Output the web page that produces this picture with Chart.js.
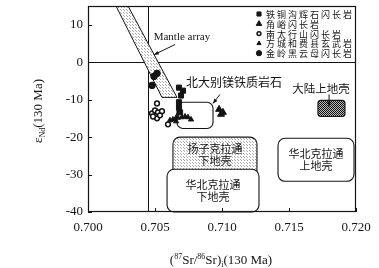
<!DOCTYPE html>
<html>
<head>
<meta charset="utf-8">
<script src="https://cdn.jsdelivr.net/npm/chart.js@4.4.1/dist/chart.umd.min.js"></script>
<style>
  html, body { margin: 0; padding: 0; background: #fff; }
  #wrap { width: 379px; height: 268px; }
</style>
</head>
<body>
<div id="wrap"><canvas id="myChart" width="379" height="268"></canvas></div>
<script>
// tick labels
const xTicks = [0.700, 0.705, 0.710, 0.715, 0.720];
const yTicks = [-40, -30, -20, -10, 0, 10];

// series: (87Sr/86Sr)i and eNd(t)
const tietonggouX = [0.70679, 0.70709, 0.70694, 0.70679, 0.70679, 0.70687];
const tietonggouY = [-6.8, -7.6, -8.9, -10.7, -12.1, -13.4];
const jiaoyuX = [0.70664, 0.70978, 0.71007, 0.70993];
const jiaoyuY = [-14.7, -12.6, -13.4, -13.9];
const nantaihangX = [0.70515, 0.70478, 0.70500, 0.70522, 0.70552, 0.70515, 0.70485, 0.70537, 0.70597];
const nantaihangY = [-11.0, -13.7, -12.9, -13.4, -13.1, -15.0, -14.5, -14.2, -16.6];
const fangchengX = [0.70612, 0.70634, 0.70657, 0.70701, 0.70724, 0.70746, 0.70769];
const fangchengY = [-15.5, -15.3, -15.8, -14.7, -14.5, -14.7, -15.3];
const jinlingX = [0.70493, 0.70515, 0.70478];
const jinlingY = [-3.8, -3.0, -6.2];

const seriesNames = ['铁铜沟辉石闪长岩', '角峪闪长岩', '南太行山闪长岩', '方城和费县玄武岩', '金岭黑云母闪长岩'];

// mantle array band outline
const mantleX = [0.70209, 0.70299, 0.70664, 0.70552, 0.70209];
const mantleY = [15, 15, -9.4, -9.4, 15];

// reference fields
const regionText = ['扬子克拉通\n下地壳', '华北克拉通\n下地壳', '华北克拉通\n上地壳', '', ''];
const regionXMin = [0.70634, 0.70590, 0.71418, 0.70664, 0.71716];
const regionXMax = [0.71261, 0.71276, 0.71985, 0.70933, 0.71918];
const regionYMax = [-20.0, -28.6, -20.3, -10.7, -10.2];
const regionYMin = [-29.4, -40, -31.8, -17.7, -14.5];

// bulk earth reference lines
const bulkSr = 0.7045;
const bulkNd = 0;

const ink = '#141414';
const serif = '"Liberation Serif", "DejaVu Serif", serif';
const cjk = '"Noto Sans CJK SC", sans-serif';

function toPts(xs, ys) { return xs.map((x, i) => ({ x: x, y: ys[i] })); }

function dotPattern(step, color) {
  const c = document.createElement('canvas');
  c.width = step; c.height = step;
  const g = c.getContext('2d');
  g.fillStyle = '#fff'; g.fillRect(0, 0, step, step);
  g.fillStyle = color;
  g.fillRect(0, 0, 1, 1);
  g.fillRect(Math.floor(step / 2), Math.floor(step / 2), 1, 1);
  return g.createPattern(c, 'repeat');
}
function checkPattern() {
  const c = document.createElement('canvas');
  c.width = 2; c.height = 2;
  const g = c.getContext('2d');
  g.fillStyle = '#bbb'; g.fillRect(0, 0, 2, 2);
  g.fillStyle = '#111'; g.fillRect(0, 0, 1, 1); g.fillRect(1, 1, 1, 1);
  return g.createPattern(c, 'repeat');
}

const ctx = document.getElementById('myChart').getContext('2d');
const lightDots = dotPattern(3, '#a8a8a8');
const denseHatch = checkPattern();

function arrow(c, x1, y1, x2, y2) {
  c.beginPath(); c.moveTo(x1, y1); c.lineTo(x2, y2); c.stroke();
  const a = Math.atan2(y2 - y1, x2 - x1), h = 5;
  c.beginPath();
  c.moveTo(x2, y2);
  c.lineTo(x2 - h * Math.cos(a - 0.4), y2 - h * Math.sin(a - 0.4));
  c.lineTo(x2 - h * Math.cos(a + 0.4), y2 - h * Math.sin(a + 0.4));
  c.closePath(); c.fill();
}

const decor = {
  id: 'decor',
  beforeDatasetsDraw(chart) {
    const c = chart.ctx, xs = chart.scales.x, ys = chart.scales.y, a = chart.chartArea;
    c.save();
    c.strokeStyle = ink; c.fillStyle = ink; c.lineWidth = 1;
    // reference lines
    c.beginPath();
    c.moveTo(Math.round(xs.getPixelForValue(bulkSr)) + 0.5, a.top);
    c.lineTo(Math.round(xs.getPixelForValue(bulkSr)) + 0.5, a.bottom);
    c.moveTo(a.left, Math.round(ys.getPixelForValue(bulkNd)) + 0.5);
    c.lineTo(a.right, Math.round(ys.getPixelForValue(bulkNd)) + 0.5);
    c.stroke();
    // fields
    const fills = [lightDots, '#fff', '#fff', '#fff', denseHatch];
    const radii = [7, 7, 7, 6, 3];
    for (let i = 0; i < regionText.length; i++) {
      const x0 = xs.getPixelForValue(regionXMin[i]), x1 = xs.getPixelForValue(regionXMax[i]);
      const y0 = ys.getPixelForValue(regionYMax[i]);
      let y1 = ys.getPixelForValue(regionYMin[i]);
      if (i === 0) y1 += 12; // tucked under the next field
      c.beginPath();
      c.roundRect(x0, y0, x1 - x0, y1 - y0, radii[i]);
      c.fillStyle = fills[i]; c.fill();
      c.lineWidth = 1.1; c.strokeStyle = ink; c.stroke();
      if (regionText[i]) {
        const lines = regionText[i].split('\n');
        const cy = (y0 + ys.getPixelForValue(regionYMin[i])) / 2;
        c.fillStyle = ink; c.font = '11px ' + cjk;
        c.textAlign = 'center'; c.textBaseline = 'middle';
        lines.forEach((t, k) => c.fillText(t, (x0 + x1) / 2, cy + (k - (lines.length - 1) / 2) * 12));
      }
    }
    c.restore();
  },
  afterDraw(chart) {
    const c = chart.ctx, xs = chart.scales.x, ys = chart.scales.y, a = chart.chartArea;
    c.save();
    c.strokeStyle = ink; c.fillStyle = ink; c.lineWidth = 1.2;
    // frame
    c.strokeRect(a.left + 0.5, a.top + 0.5, a.right - a.left - 1, a.bottom - a.top - 1);
    // inward ticks
    c.lineWidth = 1;
    c.beginPath();
    xTicks.forEach(v => { const p = Math.round(xs.getPixelForValue(v)) + 0.5; c.moveTo(p, a.bottom); c.lineTo(p, a.bottom - 4); });
    yTicks.forEach(v => { const p = Math.round(ys.getPixelForValue(v)) + 0.5; c.moveTo(a.left, p); c.lineTo(a.left + 4, p); });
    c.stroke();

    // annotations
    const P = (x, y) => [xs.getPixelForValue(x), ys.getPixelForValue(y)];
    c.textAlign = 'center'; c.textBaseline = 'middle';
    c.font = '11px ' + serif;
    let p = P(0.70701, 6.8); c.fillText('Mantle array', p[0], p[1]);
    let q = P(0.70649, 4.7), r = P(0.70493, 2.0); arrow(c, q[0], q[1], r[0], r[1]);
    c.font = '12px ' + cjk;
    p = P(0.71090, -5.4); c.fillText('北大别镁铁质岩石', p[0], p[1]);
    q = P(0.70985, -8.6); r = P(0.70933, -11.0); arrow(c, q[0], q[1], r[0], r[1]);
    c.font = '11.5px ' + cjk;
    p = P(0.71739, -7.0); c.fillText('大陆上地壳', p[0], p[1]);
    q = P(0.71799, -8.6); r = P(0.71799, -11.8); arrow(c, q[0], q[1], r[0], r[1]);

    // legend
    const styles = chart.data.datasets.slice(1);
    c.textAlign = 'left'; c.font = '9px ' + cjk;
    c.letterSpacing = '2px';
    styles.forEach((ds, i) => {
      const yy = 14 + i * 9.8, xx = 259;
      const opts = { pointStyle: ds.pointStyle, radius: ds.pointRadius * 0.8, borderWidth: ds.borderWidth, rotation: 0 };
      c.fillStyle = ds.backgroundColor; c.strokeStyle = ds.borderColor; c.lineWidth = ds.borderWidth;
      Chart.helpers.drawPoint(c, opts, xx, yy);
      c.fillStyle = ink;
      c.fillText(seriesNames[i], 266, yy + 0.5);
    });
    c.letterSpacing = '0px';

    // axis titles
    c.fillStyle = ink; c.textBaseline = 'alphabetic';
    const parts = [['(', 13, 0], ['87', 8, -5], ['Sr/', 13, 0], ['86', 8, -5], ['Sr)', 13, 0], ['i', 8, 3], ['(130 Ma)', 13, 0]];
    let w = 0;
    parts.forEach(t => { c.font = t[1] + 'px ' + serif; w += c.measureText(t[0]).width; });
    let x = 221 - w / 2;
    parts.forEach(t => { c.font = t[1] + 'px ' + serif; c.fillText(t[0], x, 264 + t[2]); x += c.measureText(t[0]).width; });

    c.translate(42, 111); c.rotate(-Math.PI / 2);
    const yparts = [['ε', 13, 0], ['Nd', 8, 3], ['(130 Ma)', 13, 0]];
    w = 0;
    yparts.forEach(t => { c.font = t[1] + 'px ' + serif; w += c.measureText(t[0]).width; });
    x = -w / 2;
    yparts.forEach(t => { c.font = t[1] + 'px ' + serif; c.fillText(t[0], x, t[2]); x += c.measureText(t[0]).width; });
    c.restore();
  }
};

new Chart(ctx, {
  type: 'scatter',
  data: {
    datasets: [
      { label: 'Mantle array', data: toPts(mantleX, mantleY), showLine: true, fill: 'shape',
        backgroundColor: lightDots, borderColor: ink, borderWidth: 1, pointRadius: 0, tension: 0, order: 10 },
      { label: seriesNames[0], data: toPts(tietonggouX, tietonggouY), pointStyle: 'rect', pointRadius: 3.6,
        backgroundColor: ink, borderColor: ink, borderWidth: 1 },
      { label: seriesNames[1], data: toPts(jiaoyuX, jiaoyuY), pointStyle: 'triangle', pointRadius: 4,
        backgroundColor: ink, borderColor: ink, borderWidth: 1 },
      { label: seriesNames[2], data: toPts(nantaihangX, nantaihangY), pointStyle: 'circle', pointRadius: 2.4,
        backgroundColor: '#fff', borderColor: ink, borderWidth: 1.5 },
      { label: seriesNames[3], data: toPts(fangchengX, fangchengY), pointStyle: 'triangle', pointRadius: 3,
        backgroundColor: ink, borderColor: ink, borderWidth: 1 },
      { label: seriesNames[4], data: toPts(jinlingX, jinlingY), pointStyle: 'circle', pointRadius: 3.3,
        backgroundColor: ink, borderColor: ink, borderWidth: 1 }
    ]
  },
  options: {
    responsive: false,
    animation: false,
    layout: { padding: { left: 0, right: 23, top: 6, bottom: 0 } },
    plugins: { legend: { display: false }, tooltip: { enabled: false } },
    scales: {
      x: {
        type: 'linear', min: 0.700, max: 0.720,
        afterBuildTicks: s => { s.ticks = xTicks.map(v => ({ value: v })); },
        afterFit: s => { s.height = 56; s.paddingLeft = 0; s.paddingRight = 0; },
        ticks: { callback: v => v.toFixed(3), font: { family: serif, size: 13 }, color: ink, padding: 8, maxRotation: 0, autoSkip: false },
        grid: { display: false, drawTicks: false },
        border: { display: false }
      },
      y: {
        type: 'linear', min: -40, max: 15,
        afterBuildTicks: s => { s.ticks = yTicks.map(v => ({ value: v })); },
        afterFit: s => { s.width = 88; s.paddingTop = 0; s.paddingBottom = 0; },
        ticks: { font: { family: serif, size: 13 }, color: ink, padding: 5 },
        grid: { display: false, drawTicks: false },
        border: { display: false }
      }
    }
  },
  plugins: [decor]
});
</script>
</body>
</html>
